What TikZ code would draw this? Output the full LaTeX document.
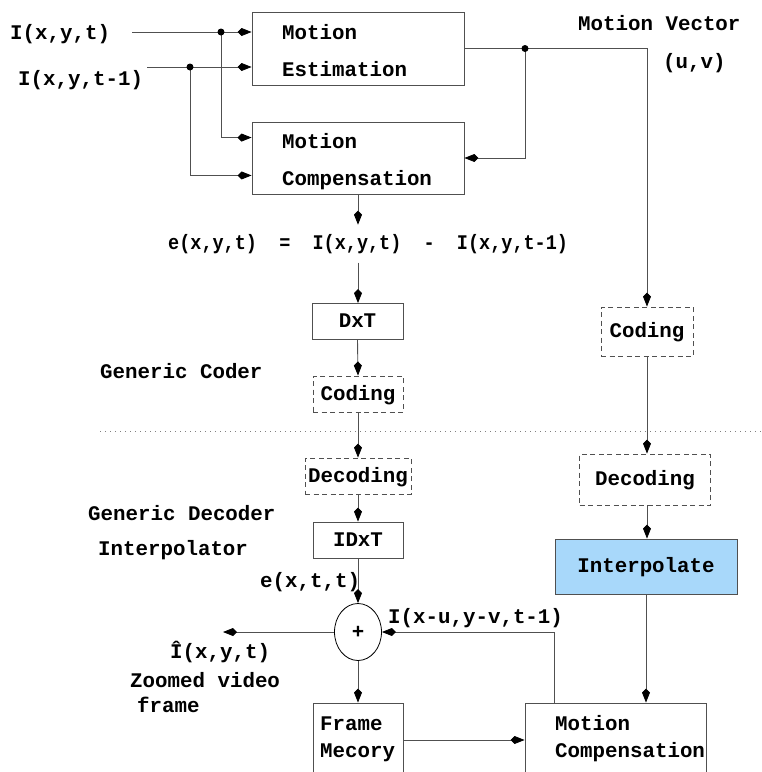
\documentclass[tikz,border=0pt]{standalone}
\usepackage{fontspec}
\setmonofont{Liberation Mono}
\newfontfamily\narrowmono[FakeStretch=0.89]{Liberation Mono}
\usetikzlibrary{arrows.meta,shapes.geometric}
\definecolor{lncol}{HTML}{505050}
\definecolor{ibcol}{HTML}{A8D8FA}
\tikzset{
  boxed/.style={draw=lncol, line width=0.9pt, inner sep=0pt, text height=12pt, text depth=0pt},
  dboxed/.style={boxed, dash pattern=on 5pt off 3.5pt},
  txt/.style={inner sep=0pt, anchor=base west},
  conn/.style={draw=lncol, line width=0.9pt},
  arr/.style={conn, -{Kite[length=14pt, width=8pt, inset=4pt, color=black]}},
  sepline/.style={draw=gray, line width=0.8pt, dash pattern=on 1pt off 4pt},
  jdot/.style={fill=black}
}
\begin{document}
\begin{tikzpicture}[x=1pt,y=-1pt,font={\ttfamily\bfseries\fontsize{20.8pt}{37pt}\selectfont}]
\useasboundingbox (0,0) rectangle (762,772);
\clip (0,0) rectangle (762,772);

% boxes
\node[boxed, minimum width=212pt, minimum height=73pt] (ME) at (358,48.5) {};
\node[boxed, minimum width=212pt, minimum height=72pt] (MC) at (358,158) {};
\node[boxed, minimum width=91pt, minimum height=36pt] (DxT) at (357.5,321.5) {DxT};
\node[dboxed, minimum width=90pt, minimum height=36pt] (CodL) at (358,394) {Coding};
\node[dboxed, minimum width=92pt, minimum height=49pt] (CodR) at (647,331.5) {Coding};
\node[dboxed, minimum width=106pt, minimum height=36pt] (DecL) at (358,476) {Decoding};
\node[boxed, minimum width=90pt, minimum height=36pt] (IDxT) at (358,540) {IDxT};
\node[dboxed, minimum width=131pt, minimum height=51pt] (DecR) at (645,479.5) {Decoding};
\node[boxed, fill=ibcol, minimum width=182pt, minimum height=55pt] (Interp) at (646,566.5) {Interpolate};
\node[draw=black, line width=0.8pt, ellipse, inner sep=0pt, minimum width=47pt, minimum height=57pt] (plus) at (358,632) {+};
\node[boxed, minimum width=90pt, minimum height=74pt] (FM) at (358,740) {};
\node[boxed, minimum width=181pt, minimum height=74pt] (MC2) at (615.5,740) {};

% texts
\node[txt] (in1) at (10,39) {I(x,y,t)};
\node[txt] (in2) at (18,85) {I(x,y,t-1)};
\node[txt] (MEa) at (282,39) {Motion};
\node[txt] (MEb) at (282,76) {Estimation};
\node[txt] (MCa) at (282,148) {Motion};
\node[txt] (MCb) at (282,185) {Compensation};
\node[txt] (mv) at (578,30) {Motion Vector};
\node[txt] (uv) at (663,68) {(u,v)};
\node[txt, inner ysep=9pt, font={\narrowmono\bfseries\fontsize{20.8pt}{37pt}\selectfont}] (elab) at (168,249) {e(x,y,t)\ \ =\ \ I(x,y,t)\ \ -\ \ I(x,y,t-1)};
\node[txt] (gc) at (100,378) {Generic Coder};
\node[txt] (gd) at (88,520) {Generic Decoder};
\node[txt] (ip) at (98,555) {Interpolator};
\node[txt] (ext) at (260,587) {e(x,t,t)};
\node[txt] (ihat) at (170,658) {Î(x,y,t)};
\node[txt] (zv) at (130,687) {Zoomed video};
\node[txt] (fr) at (137,712) {frame};
\node[txt] (FMa) at (320,730) {Frame};
\node[txt] (FMb) at (320,757) {Mecory};
\node[txt] (iuv) at (388,623) {I(x-u,y-v,t-1)};
\node[txt] (MC2a) at (555,730) {Motion};
\node[txt] (MC2b) at (555,757) {Compensation};

% coordinates
\coordinate (s1) at (132,32);
\coordinate (s2) at (147,67);
\coordinate (d1) at (221,32);
\coordinate (d2) at (190,67);
\coordinate (d3) at (525,48.5);
\coordinate (out) at (223,632);
\coordinate (sepL) at (100,431);
\coordinate (sepR) at (762,431);

% connectors
\draw[arr] (s1) -- (ME.west |- s1);
\draw[arr] (s2) -- (ME.west |- s2);
\draw[arr] (d1) |- ([yshift=-16pt]MC.north west);
\draw[arr] (d2) |- ([yshift=19pt]MC.south west);
\draw[arr] (ME.east) -| (CodR.north);
\draw[arr] (d3) |- (MC.east);
\draw[arr] (MC.south) -- (MC.south |- elab.north);
\draw[arr] (MC.south |- elab.south) -- (MC.south |- DxT.north);
\draw[arr] (DxT.south) -- (CodL.north);
\draw[arr] (CodL.south) -- (DecL.north);
\draw[arr] (DecL.south) -- (IDxT.north);
\draw[arr] (IDxT.south) -- (plus.north);
\draw[arr] (plus.west) -- (out);
\draw[arr] (plus.south) -- (FM.north);
\draw[arr] (CodR.south) -- (CodR.south |- DecR.north);
\draw[arr] (CodR.south |- DecR.south) -- (CodR.south |- Interp.north);
\draw[arr] (Interp.south) -- (Interp.south |- MC2.north);
\draw[arr] ([xshift=30pt]MC2.north west) |- (plus.east);
\draw[arr] (FM.east) -- (MC2.west);
\fill[jdot] (d1) circle (3.5pt);
\fill[jdot] (d2) circle (3.5pt);
\fill[jdot] (d3) circle (3.5pt);
\draw[sepline] (sepL) -- (sepR);
\end{tikzpicture}
\end{document}
